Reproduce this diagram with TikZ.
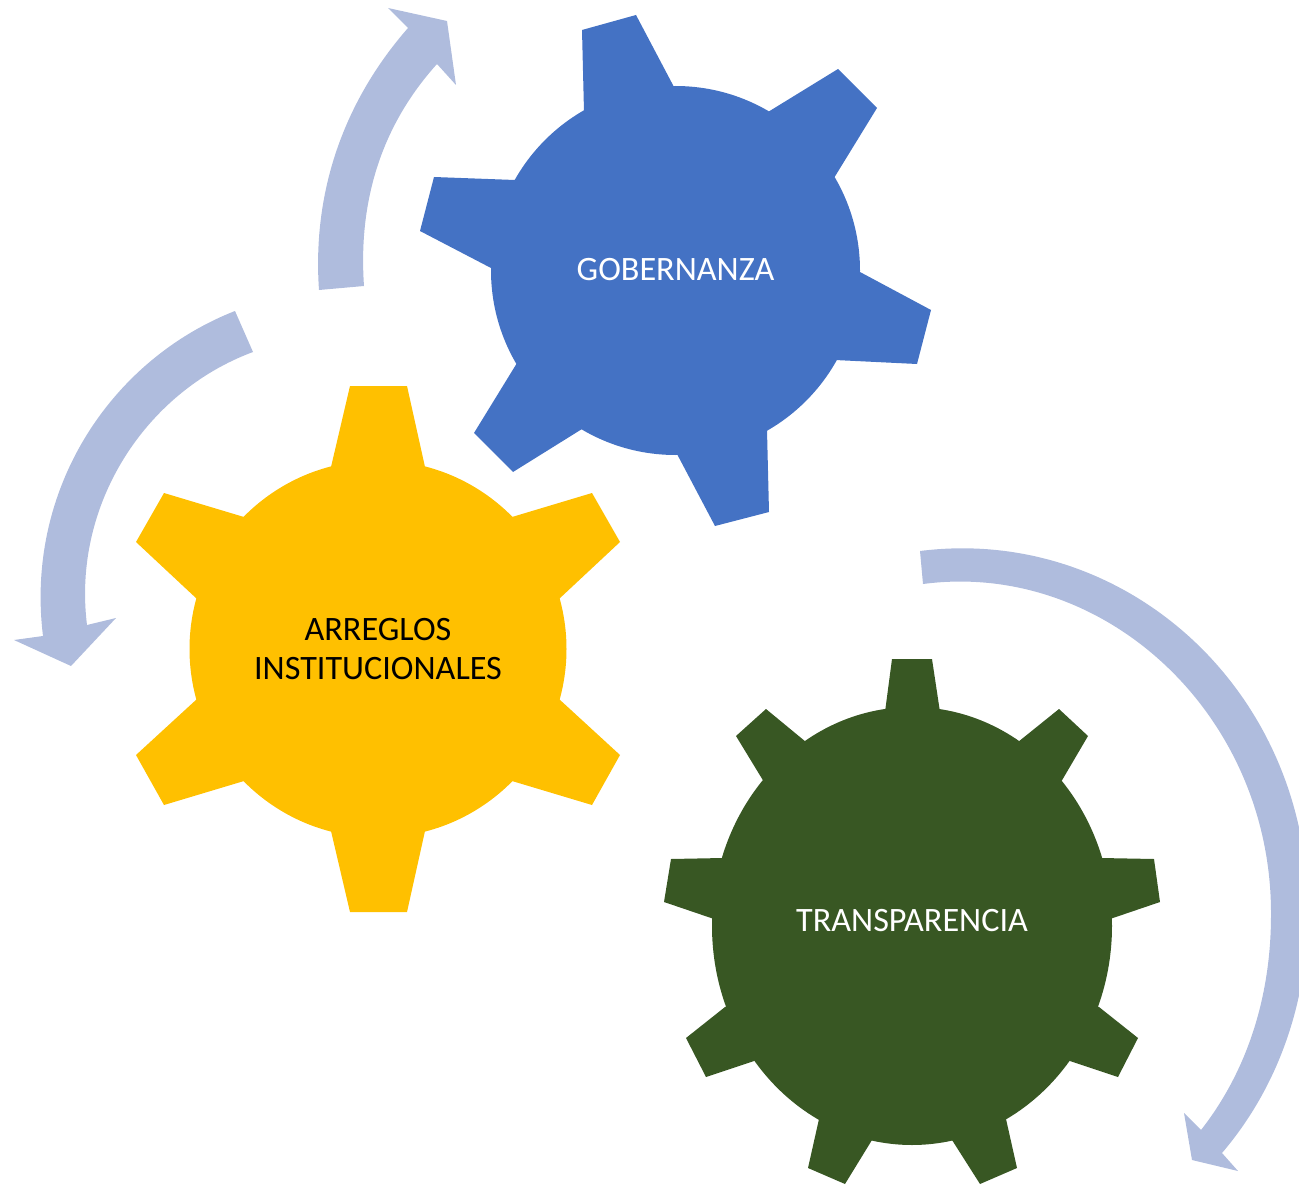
\documentclass[tikz,border=0pt]{standalone}
\usepackage{fontspec}
\setmainfont{Carlito}
\definecolor{gblue}{HTML}{4472C4}
\definecolor{gyellow}{HTML}{FFC000}
\definecolor{ggreen}{HTML}{385723}
\definecolor{garrow}{HTML}{AFBCDD}
\tikzset{
  gearblue/.style={fill=gblue,draw=none},
  gearyellow/.style={fill=gyellow,draw=none},
  geargreen/.style={fill=ggreen,draw=none},
  cyclearrow/.style={fill=garrow,draw=none},
  gearlabel/.style={font=\fontsize{34.2}{39.5}\selectfont,align=center,inner sep=0pt}
}
\begin{document}
\begin{tikzpicture}[x=1pt,y=-1pt]
\useasboundingbox (0,0) rectangle (1299,1185);
\clip (0,0) rectangle (1299,1185);
% arrows
\fill[cyclearrow] (319,290) .. controls (312,190) and (345,100) .. (408,28) -- (388,8) -- (447,21) -- (456,85) -- (437,64) .. controls (382,125) and (358,200) .. (364,286) -- cycle;
\fill[cyclearrow] (235,311) .. controls (110,360) and (25,490) .. (43,636) -- (14,640) -- (71,666) -- (116,618) -- (87,625) .. controls (72,505) and (145,392) .. (253,352) -- cycle;
\fill[cyclearrow] (920,551) .. controls (1125,525) and (1310,690) .. (1308,915) .. controls (1307,1000) and (1280,1085) .. (1222,1153) -- (1238,1171) -- (1192,1160) -- (1184,1113) -- (1201,1130) .. controls (1248,1070) and (1271,995) .. (1271,915) .. controls (1272,715) and (1105,560) .. (923,584) -- cycle;
% blue gear
\fill[gearblue] (675.5,270.5) circle [radius=184.5];
\fill[gearblue] (584,112) -- (582,30) -- (636,15) -- (674,87) -- (675,200) -- cycle;
\fill[gearblue] (768,112) -- (838,69) -- (877,108) -- (834,178) -- (700,250) -- cycle;
\fill[gearblue] (860,272) -- (931,310) -- (917,364) -- (835,360) -- (700,290) -- cycle;
\fill[gearblue] (767,430) -- (769,512) -- (715,526) -- (677,454) -- (675,300) -- cycle;
\fill[gearblue] (582,429) -- (513,472) -- (474,433) -- (517,363) -- (650,290) -- cycle;
\fill[gearblue] (491,268) -- (420,231) -- (434,177) -- (515,180) -- (650,250) -- cycle;
% yellow gear
\fill[gearyellow] (378,649) circle [radius=188.5];
\fill[gearyellow] (331,467) -- (350,386) -- (407,386) -- (425,467) -- (378,600) -- cycle;
\fill[gearyellow] (512,517) -- (592,493) -- (620,542) -- (559,599) -- (400,640) -- cycle;
\fill[gearyellow] (559,699) -- (620,755) -- (592,805) -- (512,781) -- (400,660) -- cycle;
\fill[gearyellow] (425,831) -- (407,912) -- (350,912) -- (331,831) -- (378,700) -- cycle;
\fill[gearyellow] (244,781) -- (164,805) -- (136,755) -- (197,699) -- (360,660) -- cycle;
\fill[gearyellow] (197,599) -- (136,542) -- (164,493) -- (244,517) -- (360,640) -- cycle;
% green gear
\fill[geargreen] (912,926) ellipse [x radius=200,y radius=219];
\fill[geargreen] (885,712) -- (892,659) -- (932,659) -- (940,712) -- (912,800) -- cycle;
\fill[geargreen] (1018,742) -- (1059,709) -- (1088,736) -- (1061,782) -- (950,880) -- cycle;
\fill[geargreen] (1101,858) -- (1154,859) -- (1160,902) -- (1110,919) -- (950,900) -- cycle;
\fill[geargreen] (1099,1007) -- (1138,1038) -- (1118,1077) -- (1070,1061) -- (950,950) -- cycle;
\fill[geargreen] (1006,1119) -- (1017,1168) -- (980,1184) -- (952,1140) -- (920,950) -- cycle;
\fill[geargreen] (872,1140) -- (845,1184) -- (808,1168) -- (819,1119) -- (900,950) -- cycle;
\fill[geargreen] (754,1061) -- (706,1077) -- (686,1038) -- (725,1007) -- (870,950) -- cycle;
\fill[geargreen] (714,919) -- (664,902) -- (671,859) -- (723,858) -- (870,900) -- cycle;
\fill[geargreen] (764,782) -- (736,736) -- (766,709) -- (806,742) -- (870,880) -- cycle;
% labels
\node[gearlabel,text=white] (gob) at (675.5,270) {GOBERNANZA};
\node[gearlabel,text=black] (arr) at (378,649) {ARREGLOS\\INSTITUCIONALES};
\node[gearlabel,text=white] (tra) at (912,921) {TRANSPARENCIA};
\end{tikzpicture}
\end{document}
